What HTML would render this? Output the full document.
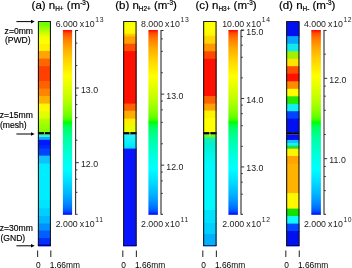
<!DOCTYPE html><html><head><meta charset="utf-8"><style>html,body{margin:0;padding:0;background:#fff;}svg{display:block;will-change:transform;}</style></head><body>
<svg width="352" height="268" viewBox="0 0 352 268" font-family='"Liberation Sans", sans-serif'>
<defs><linearGradient id="cm" x1="0" y1="0" x2="0" y2="1"><stop offset="0.0000" stop-color="#ff0000"/><stop offset="0.0167" stop-color="#ff4900"/><stop offset="0.0333" stop-color="#ff6600"/><stop offset="0.0500" stop-color="#ff7c00"/><stop offset="0.0667" stop-color="#ff8d00"/><stop offset="0.0833" stop-color="#ff9c00"/><stop offset="0.1000" stop-color="#ffaa00"/><stop offset="0.1167" stop-color="#ffb600"/><stop offset="0.1333" stop-color="#ffc100"/><stop offset="0.1500" stop-color="#ffcb00"/><stop offset="0.1667" stop-color="#ffd500"/><stop offset="0.1833" stop-color="#ffde00"/><stop offset="0.2000" stop-color="#ffe700"/><stop offset="0.2167" stop-color="#ffef00"/><stop offset="0.2333" stop-color="#fff700"/><stop offset="0.2500" stop-color="#ffff00"/><stop offset="0.2667" stop-color="#f7ff00"/><stop offset="0.2833" stop-color="#efff00"/><stop offset="0.3000" stop-color="#e7ff00"/><stop offset="0.3167" stop-color="#deff00"/><stop offset="0.3333" stop-color="#d5ff00"/><stop offset="0.3500" stop-color="#cbff00"/><stop offset="0.3667" stop-color="#c1ff00"/><stop offset="0.3833" stop-color="#b6ff00"/><stop offset="0.4000" stop-color="#aaff00"/><stop offset="0.4167" stop-color="#9cff00"/><stop offset="0.4333" stop-color="#8dff00"/><stop offset="0.4500" stop-color="#7cff00"/><stop offset="0.4667" stop-color="#66ff00"/><stop offset="0.4833" stop-color="#49ff00"/><stop offset="0.5000" stop-color="#00ff00"/><stop offset="0.5167" stop-color="#00ff49"/><stop offset="0.5333" stop-color="#00ff66"/><stop offset="0.5500" stop-color="#00ff7c"/><stop offset="0.5667" stop-color="#00ff8d"/><stop offset="0.5833" stop-color="#00ff9c"/><stop offset="0.6000" stop-color="#00ffaa"/><stop offset="0.6167" stop-color="#00ffb6"/><stop offset="0.6333" stop-color="#00ffc1"/><stop offset="0.6500" stop-color="#00ffcb"/><stop offset="0.6667" stop-color="#00ffd5"/><stop offset="0.6833" stop-color="#00ffde"/><stop offset="0.7000" stop-color="#00ffe7"/><stop offset="0.7167" stop-color="#00ffef"/><stop offset="0.7333" stop-color="#00fff7"/><stop offset="0.7500" stop-color="#00ffff"/><stop offset="0.7667" stop-color="#00f7ff"/><stop offset="0.7833" stop-color="#00efff"/><stop offset="0.8000" stop-color="#00e7ff"/><stop offset="0.8167" stop-color="#00deff"/><stop offset="0.8333" stop-color="#00d5ff"/><stop offset="0.8500" stop-color="#00cbff"/><stop offset="0.8667" stop-color="#00c1ff"/><stop offset="0.8833" stop-color="#00b6ff"/><stop offset="0.9000" stop-color="#00aaff"/><stop offset="0.9167" stop-color="#009cff"/><stop offset="0.9333" stop-color="#008dff"/><stop offset="0.9500" stop-color="#007cff"/><stop offset="0.9667" stop-color="#0066ff"/><stop offset="0.9833" stop-color="#0049ff"/><stop offset="1.0000" stop-color="#0000ff"/></linearGradient></defs>
<rect width="352" height="268" fill="#fff"/>
<text x="31.6" y="9.1" font-size="11.5" fill="#000" stroke="#000" stroke-width="0.2">(a) n<tspan font-size="6.4" dy="2.2">H+</tspan><tspan dy="-2.2"> (m</tspan><tspan font-size="6.4" dy="-4.3">-3</tspan><tspan dy="4.3">)</tspan></text>
<text x="115.2" y="9.1" font-size="11.5" fill="#000" stroke="#000" stroke-width="0.2">(b) n<tspan font-size="6.4" dy="2.2">H2+</tspan><tspan dy="-2.2"> (m</tspan><tspan font-size="6.4" dy="-4.3">-3</tspan><tspan dy="4.3">)</tspan></text>
<text x="195.5" y="9.1" font-size="11.5" fill="#000" stroke="#000" stroke-width="0.2">(c) n<tspan font-size="6.4" dy="2.2">H3+</tspan><tspan dy="-2.2"> (m</tspan><tspan font-size="6.4" dy="-4.3">-3</tspan><tspan dy="4.3">)</tspan></text>
<text x="278.9" y="9.1" font-size="11.5" fill="#000" stroke="#000" stroke-width="0.2">(d) n<tspan font-size="6.4" dy="2.2">H-</tspan><tspan dy="-2.2"> (m</tspan><tspan font-size="6.4" dy="-4.3">-3</tspan><tspan dy="4.3">)</tspan></text>
<linearGradient id="ga0" gradientUnits="userSpaceOnUse" x1="0" y1="22" x2="0" y2="44"><stop offset="0.000" stop-color="#70ff00"/><stop offset="0.136" stop-color="#78ff00"/><stop offset="0.364" stop-color="#a8ff00"/><stop offset="0.545" stop-color="#d8ff00"/><stop offset="0.727" stop-color="#f8ff00"/><stop offset="1.000" stop-color="#ffff00"/></linearGradient>
<rect x="37.9" y="22" width="13.10" height="23.00" fill="url(#ga0)"/>
<rect x="37.9" y="44" width="13.10" height="8.00" fill="#fff000"/>
<rect x="37.9" y="51" width="13.10" height="8.60" fill="#ffa400"/>
<rect x="37.9" y="58.6" width="13.10" height="8.60" fill="#ff6600"/>
<rect x="37.9" y="66.2" width="13.10" height="15.80" fill="#ff4000"/>
<rect x="37.9" y="81" width="13.10" height="8.60" fill="#ff6000"/>
<rect x="37.9" y="88.6" width="13.10" height="8.40" fill="#ff8400"/>
<rect x="37.9" y="96" width="13.10" height="8.60" fill="#ffb000"/>
<rect x="37.9" y="103.6" width="13.10" height="8.50" fill="#fff800"/>
<rect x="37.9" y="111.1" width="13.10" height="8.40" fill="#e0ff00"/>
<linearGradient id="ga10" gradientUnits="userSpaceOnUse" x1="0" y1="118.5" x2="0" y2="132"><stop offset="0.000" stop-color="#b8ff00"/><stop offset="1.000" stop-color="#80ff00"/></linearGradient>
<rect x="37.9" y="118.5" width="13.10" height="13.50" fill="url(#ga10)"/>
<rect x="37.9" y="134.4" width="13.10" height="3.60" fill="#20ffd0"/>
<rect x="37.9" y="137" width="13.10" height="3.80" fill="#10a8ff"/>
<rect x="37.9" y="139.8" width="13.10" height="6.20" fill="#0018ff"/>
<rect x="37.9" y="145" width="13.10" height="4.60" fill="#0028f8"/>
<rect x="37.9" y="148.6" width="13.10" height="8.00" fill="#0044ff"/>
<rect x="37.9" y="155.6" width="13.10" height="8.90" fill="#10c0ff"/>
<rect x="37.9" y="163.5" width="13.10" height="37.50" fill="#00ecff"/>
<rect x="37.9" y="200" width="13.10" height="9.20" fill="#00e4ff"/>
<rect x="37.9" y="208.2" width="13.10" height="8.80" fill="#00d0ff"/>
<rect x="37.9" y="216" width="13.10" height="8.50" fill="#00b8ff"/>
<rect x="37.9" y="223.5" width="13.10" height="8.00" fill="#0090ff"/>
<rect x="37.9" y="230.5" width="13.10" height="8.50" fill="#0060ff"/>
<rect x="37.9" y="238" width="13.10" height="7.00" fill="#0030ff"/>
<rect x="37.9" y="244" width="13.10" height="2.20" fill="#0010f0"/>
<rect x="37.9" y="132.1" width="13.10" height="2.3" fill="#000"/>
<rect x="43.95" y="132.1" width="1" height="2.3" fill="#70f000"/>
<rect x="43.45" y="134.4" width="2" height="2" fill="#40f090" opacity="0.8"/>
<path d="M38.45 245.80 V21.55 H50.45 V245.80" fill="none" stroke="#1a1a1a" stroke-width="1.1"/>
<rect x="37.90" y="245.20" width="13.10" height="0.9" fill="#000030" opacity="0.85"/>
<rect x="38.40" y="246.10" width="12.10" height="0.8" fill="#7070ff" opacity="0.5"/>
<line x1="37.60" y1="250.5" x2="37.60" y2="257" stroke="#333" stroke-width="1.1"/>
<line x1="50.80" y1="250.5" x2="50.80" y2="257" stroke="#333" stroke-width="1.1"/>
<text x="36.10" y="267.8" font-size="8.4" fill="#000">0</text>
<text x="49.70" y="267.8" font-size="8.4" fill="#000">1.66mm</text>
<linearGradient id="gb0" gradientUnits="userSpaceOnUse" x1="0" y1="22" x2="0" y2="33.6"><stop offset="0.000" stop-color="#f0ff00"/><stop offset="0.431" stop-color="#ffff00"/><stop offset="1.000" stop-color="#fff400"/></linearGradient>
<rect x="123.1" y="22" width="13.50" height="12.60" fill="url(#gb0)"/>
<linearGradient id="gb1" gradientUnits="userSpaceOnUse" x1="0" y1="33.6" x2="0" y2="36.6"><stop offset="0.000" stop-color="#ffd800"/><stop offset="1.000" stop-color="#ffb800"/></linearGradient>
<rect x="123.1" y="33.6" width="13.50" height="4.00" fill="url(#gb1)"/>
<rect x="123.1" y="36.6" width="13.50" height="8.10" fill="#ffa000"/>
<rect x="123.1" y="43.7" width="13.50" height="8.40" fill="#ff5000"/>
<rect x="123.1" y="51.1" width="13.50" height="53.50" fill="#ff1000"/>
<rect x="123.1" y="103.6" width="13.50" height="8.10" fill="#ff6000"/>
<rect x="123.1" y="110.7" width="13.50" height="8.90" fill="#ffac00"/>
<rect x="123.1" y="118.6" width="13.50" height="8.00" fill="#fff000"/>
<rect x="123.1" y="125.6" width="13.50" height="6.40" fill="#e8ff00"/>
<linearGradient id="gb9" gradientUnits="userSpaceOnUse" x1="0" y1="134.4" x2="0" y2="148.6"><stop offset="0.000" stop-color="#20f8ff"/><stop offset="0.465" stop-color="#10f0ff"/><stop offset="1.000" stop-color="#00e0ff"/></linearGradient>
<rect x="123.1" y="134.4" width="13.50" height="15.20" fill="url(#gb9)"/>
<rect x="123.1" y="148.6" width="13.50" height="97.60" fill="#0814ff"/>
<rect x="123.1" y="132.1" width="13.50" height="2.3" fill="#000"/>
<rect x="129.35" y="132.1" width="1" height="2.3" fill="#d0f000"/>
<path d="M123.65 245.80 V21.55 H136.05 V245.80" fill="none" stroke="#1a1a1a" stroke-width="1.1"/>
<rect x="123.10" y="245.20" width="13.50" height="0.9" fill="#000030" opacity="0.85"/>
<rect x="123.60" y="246.10" width="12.50" height="0.8" fill="#7070ff" opacity="0.5"/>
<line x1="122.80" y1="250.5" x2="122.80" y2="257" stroke="#333" stroke-width="1.1"/>
<line x1="136.40" y1="250.5" x2="136.40" y2="257" stroke="#333" stroke-width="1.1"/>
<text x="121.30" y="267.8" font-size="8.4" fill="#000">0</text>
<text x="134.90" y="267.8" font-size="8.4" fill="#000">1.66mm</text>
<linearGradient id="gc0" gradientUnits="userSpaceOnUse" x1="0" y1="22" x2="0" y2="36.1"><stop offset="0.000" stop-color="#ffff00"/><stop offset="0.567" stop-color="#ffff00"/><stop offset="1.000" stop-color="#fff000"/></linearGradient>
<rect x="203.1" y="22" width="13.50" height="15.10" fill="url(#gc0)"/>
<rect x="203.1" y="36.1" width="13.50" height="8.50" fill="#ffd400"/>
<rect x="203.1" y="43.6" width="13.50" height="8.70" fill="#ff9800"/>
<rect x="203.1" y="51.3" width="13.50" height="8.50" fill="#ff4800"/>
<rect x="203.1" y="58.8" width="13.50" height="38.20" fill="#ff1000"/>
<rect x="203.1" y="96" width="13.50" height="8.60" fill="#ff6000"/>
<rect x="203.1" y="103.6" width="13.50" height="7.90" fill="#ffa000"/>
<rect x="203.1" y="110.5" width="13.50" height="8.50" fill="#fff200"/>
<rect x="203.1" y="118" width="13.50" height="14.00" fill="#ffff00"/>
<rect x="203.1" y="134.4" width="13.50" height="4.10" fill="#60ff20"/>
<linearGradient id="gc10" gradientUnits="userSpaceOnUse" x1="0" y1="137.5" x2="0" y2="165"><stop offset="0.000" stop-color="#20f0a0"/><stop offset="0.273" stop-color="#00f0d0"/><stop offset="0.709" stop-color="#00f8ec"/><stop offset="1.000" stop-color="#00f8fc"/></linearGradient>
<rect x="203.1" y="137.5" width="13.50" height="28.50" fill="url(#gc10)"/>
<rect x="203.1" y="165" width="13.50" height="46.00" fill="#00f8ff"/>
<rect x="203.1" y="210" width="13.50" height="14.00" fill="#00e0ff"/>
<rect x="203.1" y="223" width="13.50" height="12.00" fill="#00d0ff"/>
<rect x="203.1" y="234" width="13.50" height="12.20" fill="#00b0ff"/>
<rect x="203.1" y="132.1" width="13.50" height="2.3" fill="#000"/>
<rect x="209.35" y="132.1" width="1" height="2.3" fill="#f0f000"/>
<rect x="208.85" y="134.4" width="2" height="2" fill="#b0ff10" opacity="0.8"/>
<path d="M203.65 245.80 V21.55 H216.05 V245.80" fill="none" stroke="#1a1a1a" stroke-width="1.1"/>
<rect x="203.10" y="245.20" width="13.50" height="0.9" fill="#000030" opacity="0.85"/>
<rect x="203.60" y="246.10" width="12.50" height="0.8" fill="#7070ff" opacity="0.5"/>
<line x1="202.80" y1="250.5" x2="202.80" y2="257" stroke="#333" stroke-width="1.1"/>
<line x1="216.40" y1="250.5" x2="216.40" y2="257" stroke="#333" stroke-width="1.1"/>
<text x="201.30" y="267.8" font-size="8.4" fill="#000">0</text>
<text x="214.90" y="267.8" font-size="8.4" fill="#000">1.66mm</text>
<rect x="286.1" y="22" width="13.40" height="15.10" fill="#0010f0"/>
<rect x="286.1" y="36.1" width="13.40" height="8.60" fill="#08a4ff"/>
<rect x="286.1" y="43.7" width="13.40" height="8.60" fill="#10e8ec"/>
<rect x="286.1" y="51.3" width="13.40" height="8.50" fill="#a0f000"/>
<rect x="286.1" y="58.8" width="13.40" height="8.40" fill="#ffe400"/>
<rect x="286.1" y="66.2" width="13.40" height="8.50" fill="#ff5000"/>
<rect x="286.1" y="73.7" width="13.40" height="8.60" fill="#ff1000"/>
<rect x="286.1" y="81.3" width="13.40" height="8.50" fill="#ff8c00"/>
<rect x="286.1" y="88.8" width="13.40" height="8.50" fill="#ffff00"/>
<rect x="286.1" y="96.3" width="13.40" height="8.60" fill="#28e800"/>
<rect x="286.1" y="103.9" width="13.40" height="8.30" fill="#10f0f0"/>
<rect x="286.1" y="111.2" width="13.40" height="8.40" fill="#0044ff"/>
<rect x="286.1" y="118.6" width="13.40" height="13.40" fill="#0010f0"/>
<rect x="286.1" y="134.4" width="13.40" height="6.60" fill="#0010f0"/>
<rect x="286.1" y="140" width="13.40" height="4.00" fill="#10c0ff"/>
<rect x="286.1" y="143" width="13.40" height="3.70" fill="#20f0f0"/>
<rect x="286.1" y="145.7" width="13.40" height="4.00" fill="#20e040"/>
<rect x="286.1" y="148.7" width="13.40" height="8.30" fill="#fff400"/>
<rect x="286.1" y="156" width="13.40" height="8.60" fill="#ffa400"/>
<rect x="286.1" y="163.6" width="13.40" height="30.50" fill="#ffb200"/>
<rect x="286.1" y="193.1" width="13.40" height="16.50" fill="#fff800"/>
<rect x="286.1" y="208.6" width="13.40" height="8.40" fill="#14e000"/>
<rect x="286.1" y="216" width="13.40" height="8.60" fill="#10f8f8"/>
<rect x="286.1" y="223.6" width="13.40" height="8.40" fill="#0048ff"/>
<rect x="286.1" y="231" width="13.40" height="15.20" fill="#0010f0"/>
<rect x="286.1" y="132.1" width="13.40" height="2.3" fill="#000"/>
<rect x="292.30" y="132.1" width="1" height="2.3" fill="#0010f0"/>
<path d="M286.65 245.80 V21.55 H298.95 V245.80" fill="none" stroke="#1a1a1a" stroke-width="1.1"/>
<rect x="286.10" y="245.20" width="13.40" height="0.9" fill="#000030" opacity="0.85"/>
<rect x="286.60" y="246.10" width="12.40" height="0.8" fill="#7070ff" opacity="0.5"/>
<line x1="285.80" y1="250.5" x2="285.80" y2="257" stroke="#333" stroke-width="1.1"/>
<line x1="299.30" y1="250.5" x2="299.30" y2="257" stroke="#333" stroke-width="1.1"/>
<text x="284.30" y="267.8" font-size="8.4" fill="#000">0</text>
<text x="297.90" y="267.8" font-size="8.4" fill="#000">1.66mm</text>
<rect x="62.9" y="30.0" width="9.2" height="184.8" fill="url(#cm)"/>
<line x1="75.6" y1="30.0" x2="75.6" y2="214.8" stroke="#2a2a2a" stroke-width="1.1"/>
<line x1="75.6" y1="30.5" x2="78.1" y2="30.5" stroke="#333" stroke-width="1"/>
<line x1="75.6" y1="214.3" x2="77.6" y2="214.3" stroke="#333" stroke-width="1"/>
<line x1="75.6" y1="192.34" x2="77.39999999999999" y2="192.34" stroke="#333" stroke-width="1"/>
<line x1="75.6" y1="179.20" x2="77.39999999999999" y2="179.20" stroke="#333" stroke-width="1"/>
<line x1="75.6" y1="169.88" x2="77.39999999999999" y2="169.88" stroke="#333" stroke-width="1"/>
<line x1="75.6" y1="140.19" x2="77.39999999999999" y2="140.19" stroke="#333" stroke-width="1"/>
<line x1="75.6" y1="117.73" x2="77.39999999999999" y2="117.73" stroke="#333" stroke-width="1"/>
<line x1="75.6" y1="104.60" x2="77.39999999999999" y2="104.60" stroke="#333" stroke-width="1"/>
<line x1="75.6" y1="95.27" x2="77.39999999999999" y2="95.27" stroke="#333" stroke-width="1"/>
<line x1="75.6" y1="65.59" x2="77.39999999999999" y2="65.59" stroke="#333" stroke-width="1"/>
<line x1="75.6" y1="43.13" x2="77.39999999999999" y2="43.13" stroke="#333" stroke-width="1"/>
<line x1="75.6" y1="88.04" x2="78.8" y2="88.04" stroke="#333" stroke-width="1"/>
<text transform="translate(80.90 92.54) scale(1 1.1)" font-size="8.8" fill="#222">13.0</text>
<line x1="75.6" y1="162.65" x2="78.8" y2="162.65" stroke="#333" stroke-width="1"/>
<text transform="translate(80.90 167.15) scale(1 1.1)" font-size="8.8" fill="#222">12.0</text>
<text transform="translate(55.70 26.70) scale(1 1.1)" font-size="8.8" fill="#222">6.000</text>
<text transform="translate(79.70 26.70) scale(1 1.1)" font-size="8.8" fill="#222">x</text>
<text transform="translate(84.80 26.70) scale(1 1.1)" font-size="8.8" fill="#222">10</text>
<text transform="translate(95.30 21.90) scale(1 1.1)" font-size="6.8" fill="#222" letter-spacing="0.6">13</text>
<text transform="translate(55.70 227.00) scale(1 1.1)" font-size="8.8" fill="#222">2.000</text>
<text transform="translate(79.70 227.00) scale(1 1.1)" font-size="8.8" fill="#222">x</text>
<text transform="translate(84.80 227.00) scale(1 1.1)" font-size="8.8" fill="#222">10</text>
<text transform="translate(95.30 222.20) scale(1 1.1)" font-size="6.8" fill="#222" letter-spacing="0.6">11</text>
<rect x="148.4" y="30.0" width="9.5" height="184.8" fill="url(#cm)"/>
<line x1="161.0" y1="30.0" x2="161.0" y2="214.8" stroke="#2a2a2a" stroke-width="1.1"/>
<line x1="161.0" y1="30.5" x2="163.5" y2="30.5" stroke="#333" stroke-width="1"/>
<line x1="161.0" y1="214.3" x2="163.0" y2="214.3" stroke="#333" stroke-width="1"/>
<line x1="161.0" y1="193.42" x2="162.8" y2="193.42" stroke="#333" stroke-width="1"/>
<line x1="161.0" y1="180.91" x2="162.8" y2="180.91" stroke="#333" stroke-width="1"/>
<line x1="161.0" y1="172.04" x2="162.8" y2="172.04" stroke="#333" stroke-width="1"/>
<line x1="161.0" y1="143.78" x2="162.8" y2="143.78" stroke="#333" stroke-width="1"/>
<line x1="161.0" y1="122.40" x2="162.8" y2="122.40" stroke="#333" stroke-width="1"/>
<line x1="161.0" y1="109.89" x2="162.8" y2="109.89" stroke="#333" stroke-width="1"/>
<line x1="161.0" y1="101.02" x2="162.8" y2="101.02" stroke="#333" stroke-width="1"/>
<line x1="161.0" y1="72.75" x2="162.8" y2="72.75" stroke="#333" stroke-width="1"/>
<line x1="161.0" y1="51.37" x2="162.8" y2="51.37" stroke="#333" stroke-width="1"/>
<line x1="161.0" y1="38.87" x2="162.8" y2="38.87" stroke="#333" stroke-width="1"/>
<line x1="161.0" y1="94.13" x2="164.2" y2="94.13" stroke="#333" stroke-width="1"/>
<text transform="translate(166.30 98.63) scale(1 1.1)" font-size="8.8" fill="#222">13.0</text>
<line x1="161.0" y1="165.16" x2="164.2" y2="165.16" stroke="#333" stroke-width="1"/>
<text transform="translate(166.30 169.66) scale(1 1.1)" font-size="8.8" fill="#222">12.0</text>
<text transform="translate(141.00 26.70) scale(1 1.1)" font-size="8.8" fill="#222">8.000</text>
<text transform="translate(165.00 26.70) scale(1 1.1)" font-size="8.8" fill="#222">x</text>
<text transform="translate(170.10 26.70) scale(1 1.1)" font-size="8.8" fill="#222">10</text>
<text transform="translate(180.60 21.90) scale(1 1.1)" font-size="6.8" fill="#222" letter-spacing="0.6">13</text>
<text transform="translate(141.00 227.00) scale(1 1.1)" font-size="8.8" fill="#222">2.000</text>
<text transform="translate(165.00 227.00) scale(1 1.1)" font-size="8.8" fill="#222">x</text>
<text transform="translate(170.10 227.00) scale(1 1.1)" font-size="8.8" fill="#222">10</text>
<text transform="translate(180.60 222.20) scale(1 1.1)" font-size="6.8" fill="#222" letter-spacing="0.6">11</text>
<rect x="228.4" y="30.0" width="9.5" height="184.8" fill="url(#cm)"/>
<line x1="241.0" y1="30.0" x2="241.0" y2="214.8" stroke="#2a2a2a" stroke-width="1.1"/>
<line x1="241.0" y1="30.5" x2="243.5" y2="30.5" stroke="#333" stroke-width="1"/>
<line x1="241.0" y1="214.3" x2="243.0" y2="214.3" stroke="#333" stroke-width="1"/>
<line x1="241.0" y1="194.19" x2="242.8" y2="194.19" stroke="#333" stroke-width="1"/>
<line x1="241.0" y1="182.13" x2="242.8" y2="182.13" stroke="#333" stroke-width="1"/>
<line x1="241.0" y1="173.58" x2="242.8" y2="173.58" stroke="#333" stroke-width="1"/>
<line x1="241.0" y1="146.33" x2="242.8" y2="146.33" stroke="#333" stroke-width="1"/>
<line x1="241.0" y1="125.72" x2="242.8" y2="125.72" stroke="#333" stroke-width="1"/>
<line x1="241.0" y1="113.66" x2="242.8" y2="113.66" stroke="#333" stroke-width="1"/>
<line x1="241.0" y1="105.11" x2="242.8" y2="105.11" stroke="#333" stroke-width="1"/>
<line x1="241.0" y1="77.86" x2="242.8" y2="77.86" stroke="#333" stroke-width="1"/>
<line x1="241.0" y1="57.25" x2="242.8" y2="57.25" stroke="#333" stroke-width="1"/>
<line x1="241.0" y1="45.19" x2="242.8" y2="45.19" stroke="#333" stroke-width="1"/>
<line x1="241.0" y1="36.64" x2="242.8" y2="36.64" stroke="#333" stroke-width="1"/>
<line x1="241.0" y1="30.00" x2="244.2" y2="30.00" stroke="#333" stroke-width="1"/>
<text transform="translate(246.30 34.50) scale(1 1.1)" font-size="8.8" fill="#222">15.0</text>
<line x1="241.0" y1="98.47" x2="244.2" y2="98.47" stroke="#333" stroke-width="1"/>
<text transform="translate(246.30 102.97) scale(1 1.1)" font-size="8.8" fill="#222">14.0</text>
<line x1="241.0" y1="166.94" x2="244.2" y2="166.94" stroke="#333" stroke-width="1"/>
<text transform="translate(246.30 171.44) scale(1 1.1)" font-size="8.8" fill="#222">13.0</text>
<text transform="translate(222.20 26.70) scale(1 1.1)" font-size="8.8" fill="#222">10.00</text>
<text transform="translate(246.20 26.70) scale(1 1.1)" font-size="8.8" fill="#222">x</text>
<text transform="translate(251.30 26.70) scale(1 1.1)" font-size="8.8" fill="#222">10</text>
<text transform="translate(261.80 21.90) scale(1 1.1)" font-size="6.8" fill="#222" letter-spacing="0.6">14</text>
<text transform="translate(222.20 227.00) scale(1 1.1)" font-size="8.8" fill="#222">2.000</text>
<text transform="translate(246.20 227.00) scale(1 1.1)" font-size="8.8" fill="#222">x</text>
<text transform="translate(251.30 227.00) scale(1 1.1)" font-size="8.8" fill="#222">10</text>
<text transform="translate(261.80 222.20) scale(1 1.1)" font-size="6.8" fill="#222" letter-spacing="0.6">12</text>
<rect x="311.3" y="30.0" width="9.6" height="184.8" fill="url(#cm)"/>
<line x1="324.0" y1="30.0" x2="324.0" y2="214.8" stroke="#2a2a2a" stroke-width="1.1"/>
<line x1="324.0" y1="30.5" x2="326.5" y2="30.5" stroke="#333" stroke-width="1"/>
<line x1="324.0" y1="214.3" x2="326.0" y2="214.3" stroke="#333" stroke-width="1"/>
<line x1="324.0" y1="190.62" x2="325.8" y2="190.62" stroke="#333" stroke-width="1"/>
<line x1="324.0" y1="176.48" x2="325.8" y2="176.48" stroke="#333" stroke-width="1"/>
<line x1="324.0" y1="166.44" x2="325.8" y2="166.44" stroke="#333" stroke-width="1"/>
<line x1="324.0" y1="134.48" x2="325.8" y2="134.48" stroke="#333" stroke-width="1"/>
<line x1="324.0" y1="110.31" x2="325.8" y2="110.31" stroke="#333" stroke-width="1"/>
<line x1="324.0" y1="96.17" x2="325.8" y2="96.17" stroke="#333" stroke-width="1"/>
<line x1="324.0" y1="86.13" x2="325.8" y2="86.13" stroke="#333" stroke-width="1"/>
<line x1="324.0" y1="54.17" x2="325.8" y2="54.17" stroke="#333" stroke-width="1"/>
<line x1="324.0" y1="78.35" x2="327.2" y2="78.35" stroke="#333" stroke-width="1"/>
<text transform="translate(329.30 82.85) scale(1 1.1)" font-size="8.8" fill="#222">12.0</text>
<line x1="324.0" y1="158.66" x2="327.2" y2="158.66" stroke="#333" stroke-width="1"/>
<text transform="translate(329.30 163.16) scale(1 1.1)" font-size="8.8" fill="#222">11.0</text>
<text transform="translate(303.90 26.70) scale(1 1.1)" font-size="8.8" fill="#222">4.000</text>
<text transform="translate(327.90 26.70) scale(1 1.1)" font-size="8.8" fill="#222">x</text>
<text transform="translate(333.00 26.70) scale(1 1.1)" font-size="8.8" fill="#222">10</text>
<text transform="translate(343.50 21.90) scale(1 1.1)" font-size="6.8" fill="#222" letter-spacing="0.6">12</text>
<text transform="translate(303.90 227.00) scale(1 1.1)" font-size="8.8" fill="#222">2.000</text>
<text transform="translate(327.90 227.00) scale(1 1.1)" font-size="8.8" fill="#222">x</text>
<text transform="translate(333.00 227.00) scale(1 1.1)" font-size="8.8" fill="#222">10</text>
<text transform="translate(343.50 222.20) scale(1 1.1)" font-size="6.8" fill="#222" letter-spacing="0.6">10</text>
<line x1="16.4" y1="21.6" x2="32" y2="21.6" stroke="#000" stroke-width="1"/>
<path d="M31.0 19.8 L34.7 21.6 L31.0 23.400000000000002 Z" fill="#000"/>
<line x1="16.4" y1="134.0" x2="32" y2="134.0" stroke="#000" stroke-width="1"/>
<path d="M31.0 132.2 L34.7 134.0 L31.0 135.8 Z" fill="#000"/>
<line x1="16.4" y1="245.8" x2="32" y2="245.8" stroke="#000" stroke-width="1"/>
<path d="M31.0 244.0 L34.7 245.8 L31.0 247.60000000000002 Z" fill="#000"/>
<text x="4.6" y="33.6" font-size="8.6" fill="#000" stroke="#000" stroke-width="0.15">z=0mm</text>
<text x="4.9" y="43.3" font-size="8.6" fill="#000" stroke="#000" stroke-width="0.15">(PWD)</text>
<text x="-0.3" y="118.1" font-size="8.6" fill="#000" stroke="#000" stroke-width="0.15">z=15mm</text>
<text x="-0.1" y="127.8" font-size="8.6" fill="#000" stroke="#000" stroke-width="0.15">(mesh)</text>
<text x="-0.3" y="231.3" font-size="8.6" fill="#000" stroke="#000" stroke-width="0.15">z=30mm</text>
<text x="0.4" y="240.9" font-size="8.6" fill="#000" stroke="#000" stroke-width="0.15">(GND)</text>
</svg></body></html>
